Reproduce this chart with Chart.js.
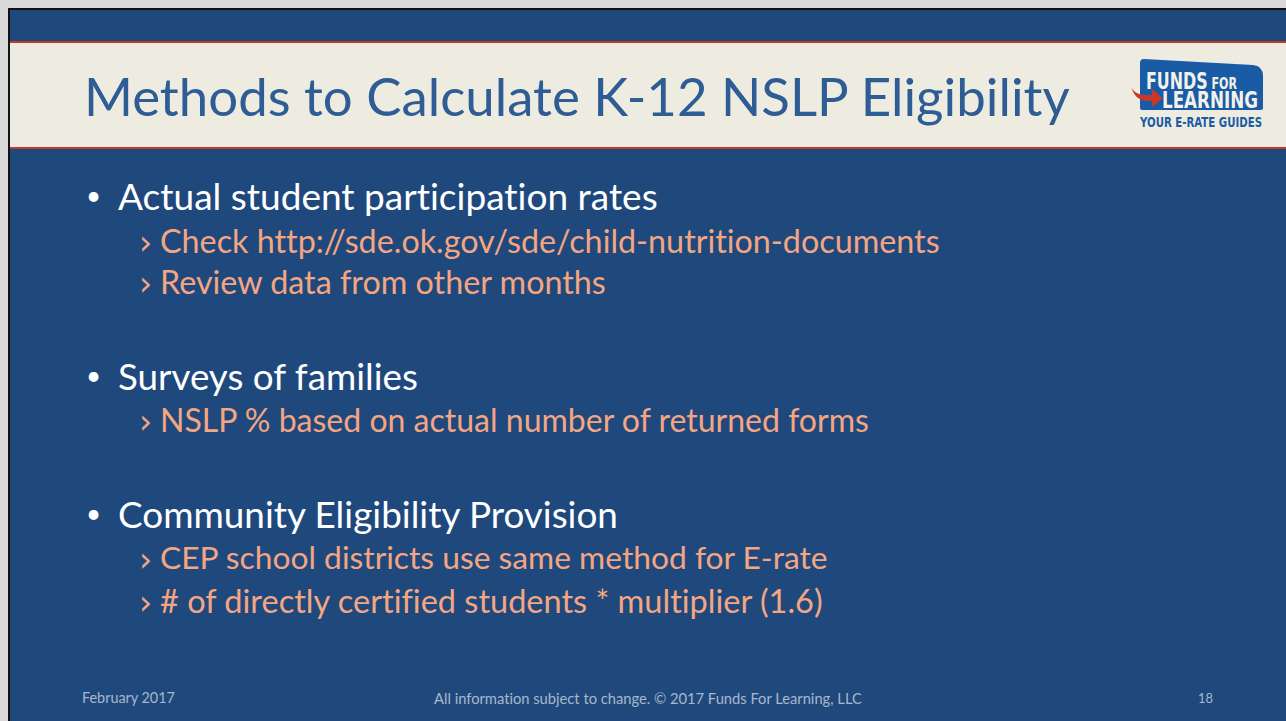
<!DOCTYPE html>
<html><head><meta charset="utf-8">
<script src="https://cdn.jsdelivr.net/npm/chart.js@4.4.1/dist/chart.umd.min.js"></script>
<style>
html,body{margin:0;padding:0;}
body{width:1286px;height:721px;position:relative;overflow:hidden;background:#d9d9d9;font-family:Lato,"Open Sans",sans-serif;font-variant-ligatures:none;font-feature-settings:"liga" 0;}
#slide{position:absolute;left:8px;top:8px;width:1278px;height:713px;background:#1f497d;border-left:2px solid #111;border-top:2px solid #111;box-sizing:border-box;}
#band{position:absolute;left:0;top:31px;width:100%;height:108px;background:#eeece1;border-top:2px solid #c0392b;border-bottom:2px solid #c0392b;box-sizing:border-box;}
.t{position:absolute;white-space:nowrap;line-height:1;}
#title{color:#2e5c94;}
.l1{color:#ffffff;}
.l2{color:#f4a582;}
.chev{font-family:"DejaVu Sans",sans-serif;font-weight:normal;}
.ft{color:#a9b7cb;}
#chartwrap{position:absolute;left:0;top:0;width:1286px;height:721px;pointer-events:none;}
</style></head>
<body>
<div id="slide"><div id="band"></div></div>
<svg style="position:absolute;left:0;top:0" width="1286" height="721">
  <path d="M1140 63 Q1140 59 1144 59 L1253 65 Q1263 66 1263 76 L1263 108 Q1263 110 1261 110 L1142 110 Q1140 110 1140 108 Z" fill="#1a5ba6"/>
  <text x="1146" y="89" textLength="91" lengthAdjust="spacingAndGlyphs" font-family="'Liberation Sans Narrow','DejaVu Sans Condensed',sans-serif" font-weight="bold" fill="#f3f1e8" font-size="23">FUNDS<tspan font-size="16"> FOR</tspan></text>
  <text x="1162" y="108" textLength="96" lengthAdjust="spacingAndGlyphs" font-family="'Liberation Sans Narrow','DejaVu Sans Condensed',sans-serif" font-weight="bold" fill="#f3f1e8" font-size="23">LEARNING</text>
  <path d="M1131 84 Q1132 96 1150 95 L1152 95 L1152 89 L1163 98 L1152 107 L1152 101 L1149 101 Q1133 101 1131 84 Z" fill="#c8372a"/>
  <text x="1140" y="127" textLength="122" lengthAdjust="spacingAndGlyphs" font-family="'Liberation Sans Narrow','DejaVu Sans Condensed',sans-serif" font-weight="bold" fill="#1a5ba6" font-size="14">YOUR E-RATE GUIDES</text>
</svg>
<div id="texts"></div>
<div id="chartwrap"><canvas id="c" width="1286" height="721"></canvas></div>
<script>
const titleText = "Methods to Calculate K-12 NSLP Eligibility";
const level1 = ["Actual student participation rates","Surveys of families","Community Eligibility Provision"];
const level2 = [
  ["Check http://sde.ok.gov/sde/child-nutrition-documents","Review data from other months"],
  ["NSLP % based on actual number of returned forms"],
  ["CEP school districts use same method for E-rate","# of directly certified students * multiplier (1.6)"]
];
const footerLeft = "February 2017";
const footerCenter = "All information subject to change. \u00A9 2017 Funds For Learning, LLC";
const footerRight = "18";

// layout: [text, class, left, centerY, targetWidth, approx size]
const items = [];
items.push([titleText,'title',84,96,986,52]);
const y1=[196,376,514], y2=[[241,282],[420],[558,601]];
const w1=[540,300,500], w2=[[780,446],[709],[668,663]];
level1.forEach((s,i)=>{
  items.push(['\u2022','l1',86,y1[i]-1,0,26]);
  items.push([s,'l1',118,y1[i],w1[i],34]);
  level2[i].forEach((s2,j)=>{
    items.push(['\u203A','l2 chev',139,y2[i][j]+1,0,33]);
    items.push([s2,'l2',160,y2[i][j],w2[i][j],30]);
  });
});
items.push([footerLeft,'ft',82,698,93,13]);
items.push([footerCenter,'ft',434,698,428,13]);
items.push([footerRight,'ft',1198,698,15,13]);
const host=document.getElementById('texts');
items.forEach(([s,cls,x,cy,w,fs])=>{
  const d=document.createElement('div');
  d.className='t '+cls; if(cls==='title') d.id='title';
  d.textContent=s; d.style.fontSize=fs+'px';
  host.appendChild(d);
  if(w>0){const cw=d.getBoundingClientRect().width; fs=fs*w/cw; d.style.fontSize=fs+'px';}
  const h=d.getBoundingClientRect().height;
  d.style.left=x+'px'; d.style.top=(cy-h/2)+'px';
});
// transparent Chart.js layer (no plotted data in this slide)
new Chart(document.getElementById('c'),{type:'bar',data:{labels:[],datasets:[]},
 options:{responsive:false,animation:false,plugins:{legend:{display:false},tooltip:{enabled:false}},scales:{x:{display:false},y:{display:false}}}});
</script>
</body></html>
